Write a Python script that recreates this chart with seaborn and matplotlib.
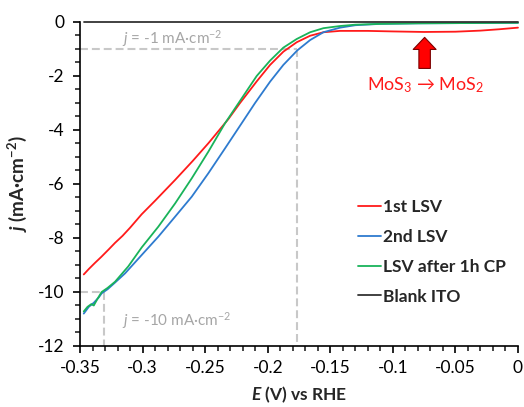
import numpy as np
import pandas as pd
import seaborn as sns
import matplotlib.pyplot as plt
from matplotlib.ticker import MultipleLocator

# LSV curves (E in V vs RHE, j in mA/cm2)
E_1st = [-0.347, -0.343, -0.338, -0.333, -0.327, -0.322, -0.316, -0.31, -0.3007, -0.29,
         -0.274, -0.26, -0.2474, -0.2315, -0.2221, -0.2088, -0.1981, -0.1875, -0.1768,
         -0.1661, -0.1555, -0.1422, -0.12, -0.1, -0.075, -0.05, -0.03, -0.015, 0.0]
j_1st = [-9.35, -9.15, -8.92, -8.7, -8.42, -8.18, -7.92, -7.62, -7.12, -6.62,
         -5.85, -5.15, -4.49, -3.6, -3.0, -2.2, -1.59, -1.1, -0.75,
         -0.51, -0.38, -0.33, -0.33, -0.35, -0.37, -0.36, -0.32, -0.27, -0.21]

E_2nd = [-0.347, -0.343, -0.339, -0.335, -0.3327, -0.328, -0.322, -0.314, -0.3007, -0.2874,
         -0.274, -0.2607, -0.2474, -0.2341, -0.2208, -0.2101, -0.1981, -0.1875, -0.1763,
         -0.1661, -0.1555, -0.1422, -0.13, -0.11, -0.08, -0.04, 0.0]
j_2nd = [-10.8, -10.55, -10.4, -10.2, -10.05, -9.9, -9.65, -9.31, -8.63, -7.95,
         -7.21, -6.47, -5.6, -4.68, -3.75, -3.0, -2.21, -1.59, -1.05,
         -0.67, -0.38, -0.21, -0.12, -0.07, -0.05, -0.04, -0.03]

E_cp = [-0.347, -0.344, -0.341, -0.339, -0.336, -0.3327, -0.328, -0.322, -0.3114, -0.3007,
        -0.2874, -0.274, -0.2607, -0.2474, -0.2341, -0.2221, -0.2088, -0.1981, -0.1875,
        -0.1768, -0.1661, -0.1555, -0.1422, -0.13, -0.11, -0.08, -0.04, 0.0]
j_cp = [-10.72, -10.55, -10.45, -10.5, -10.25, -10.0, -9.85, -9.62, -9.05, -8.35,
        -7.58, -6.72, -5.79, -4.8, -3.75, -2.92, -2.0, -1.43, -0.95,
        -0.63, -0.38, -0.23, -0.15, -0.1, -0.07, -0.05, -0.04, -0.03]

E_ito = [-0.347, -0.3, -0.2, -0.1, 0.0]
j_ito = [0.0, 0.0, 0.0, 0.0, 0.0]

series = ["1st LSV", "2nd LSV", "LSV after 1h CP", "Blank ITO"]
colors = ["#ff1a1a", "#2e7bcf", "#19b35a", "#333333"]

x_ticks = [-0.35, -0.3, -0.25, -0.2, -0.15, -0.1, -0.05, 0.0]
x_labels = ["-0.35", "-0.3", "-0.25", "-0.2", "-0.15", "-0.1", "-0.05", "0"]
y_ticks = [0, -2, -4, -6, -8, -10, -12]
y_labels = ["0", "-2", "-4", "-6", "-8", "-10", "-12"]

E_1mA = -0.1765
E_10mA = -0.331

frames = []
for name, e, j in zip(series, [E_1st, E_2nd, E_cp, E_ito], [j_1st, j_2nd, j_cp, j_ito]):
    frames.append(pd.DataFrame({"E": e, "j": j, "series": name}))
df = pd.concat(frames, ignore_index=True)

sns.set_theme(style="ticks")
plt.rcParams['font.family'] = ['Lato', 'DejaVu Sans']
plt.rcParams['axes.unicode_minus'] = False
plt.rcParams['mathtext.fontset'] = 'custom'
plt.rcParams['mathtext.rm'] = 'Lato'
plt.rcParams['mathtext.it'] = 'Lato:italic'
plt.rcParams['mathtext.bf'] = 'Lato:bold'
plt.rcParams['mathtext.bfit'] = 'Lato:italic:bold'

fig = plt.figure(figsize=(5.24, 4.07), dpi=100)
ax = fig.add_axes([0.1527, 0.1499, 0.8358, 0.7961])

# guide lines
grey = "#c8c8c8"
ax.plot([-0.35, E_1mA], [-1, -1], color=grey, lw=1.5, dashes=(3.8, 1.9), zorder=1)
ax.plot([E_1mA, E_1mA], [-1, -12], color=grey, lw=1.5, dashes=(3.8, 1.9), zorder=1)
ax.plot([-0.35, E_10mA], [-10, -10], color=grey, lw=1.5, dashes=(3.8, 1.9), zorder=1)
ax.plot([E_10mA, E_10mA], [-10, -12], color=grey, lw=1.5, dashes=(3.8, 1.9), zorder=1)

sns.lineplot(data=df, x="E", y="j", hue="series", hue_order=series,
             palette=colors, estimator=None, sort=False, lw=1.3, ax=ax, zorder=3)
for line in ax.lines:
    line.set_clip_on(False)

ax.set_xlim(-0.35, 0)
ax.set_ylim(-12, 0)
ax.set_xticks(x_ticks)
ax.set_xticklabels(x_labels)
ax.set_yticks(y_ticks)
ax.set_yticklabels(y_labels)
ax.xaxis.set_minor_locator(MultipleLocator(0.01))
ax.yaxis.set_minor_locator(MultipleLocator(0.5))
ax.tick_params(axis='both', which='major', length=5, width=1.2, labelsize=12.5, colors='black')
ax.tick_params(axis='both', which='minor', length=3.5, width=1.2)
ax.tick_params(axis='x', pad=5)
ax.tick_params(axis='y', pad=6)
sns.despine(ax=ax)
for s in ["left", "bottom"]:
    ax.spines[s].set_linewidth(1.2)
    ax.spines[s].set_color("black")

ax.set_xlabel(r"$\mathbfit{E}$ (V) vs RHE", fontsize=12.5, fontweight='bold', labelpad=6)
ax.set_ylabel(r"$\mathbfit{j}$ (mA·cm$^{\mathbf{-2}}$)", fontsize=13.5, fontweight='bold', labelpad=7)

ax.text(-0.3164, -0.6, r"$\it{j}$ = -1 mA·cm$^{-2}$", color="#a6a6a6", fontsize=11, va='center')
ax.text(-0.3164, -11.07, r"$\it{j}$ = -10 mA·cm$^{-2}$", color="#a6a6a6", fontsize=11, va='center')

ax.annotate("", xy=(-0.0746, -0.57), xytext=(-0.0746, -1.72),
            arrowprops=dict(arrowstyle="simple,head_length=0.58,head_width=1.1,tail_width=0.55",
                            fc="#ff0000", ec="#7a0000", lw=0.8, shrinkA=0, shrinkB=0,
                            mutation_scale=15))
ax.text(-0.0742, -2.33, "MoS$_3$ → MoS$_2$", color="#ff1a1a", fontsize=13,
        ha='center', va='center', family=['Lato', 'DejaVu Sans'])

ax.legend(title=None, frameon=False, loc='center left', bbox_to_anchor=(0.635, 0.291),
          borderaxespad=0, borderpad=0, handlelength=1.3, handletextpad=0.15,
          labelspacing=0.8, prop={'weight': 'bold', 'size': 12.5})

fig.savefig("out.png", dpi=100)
